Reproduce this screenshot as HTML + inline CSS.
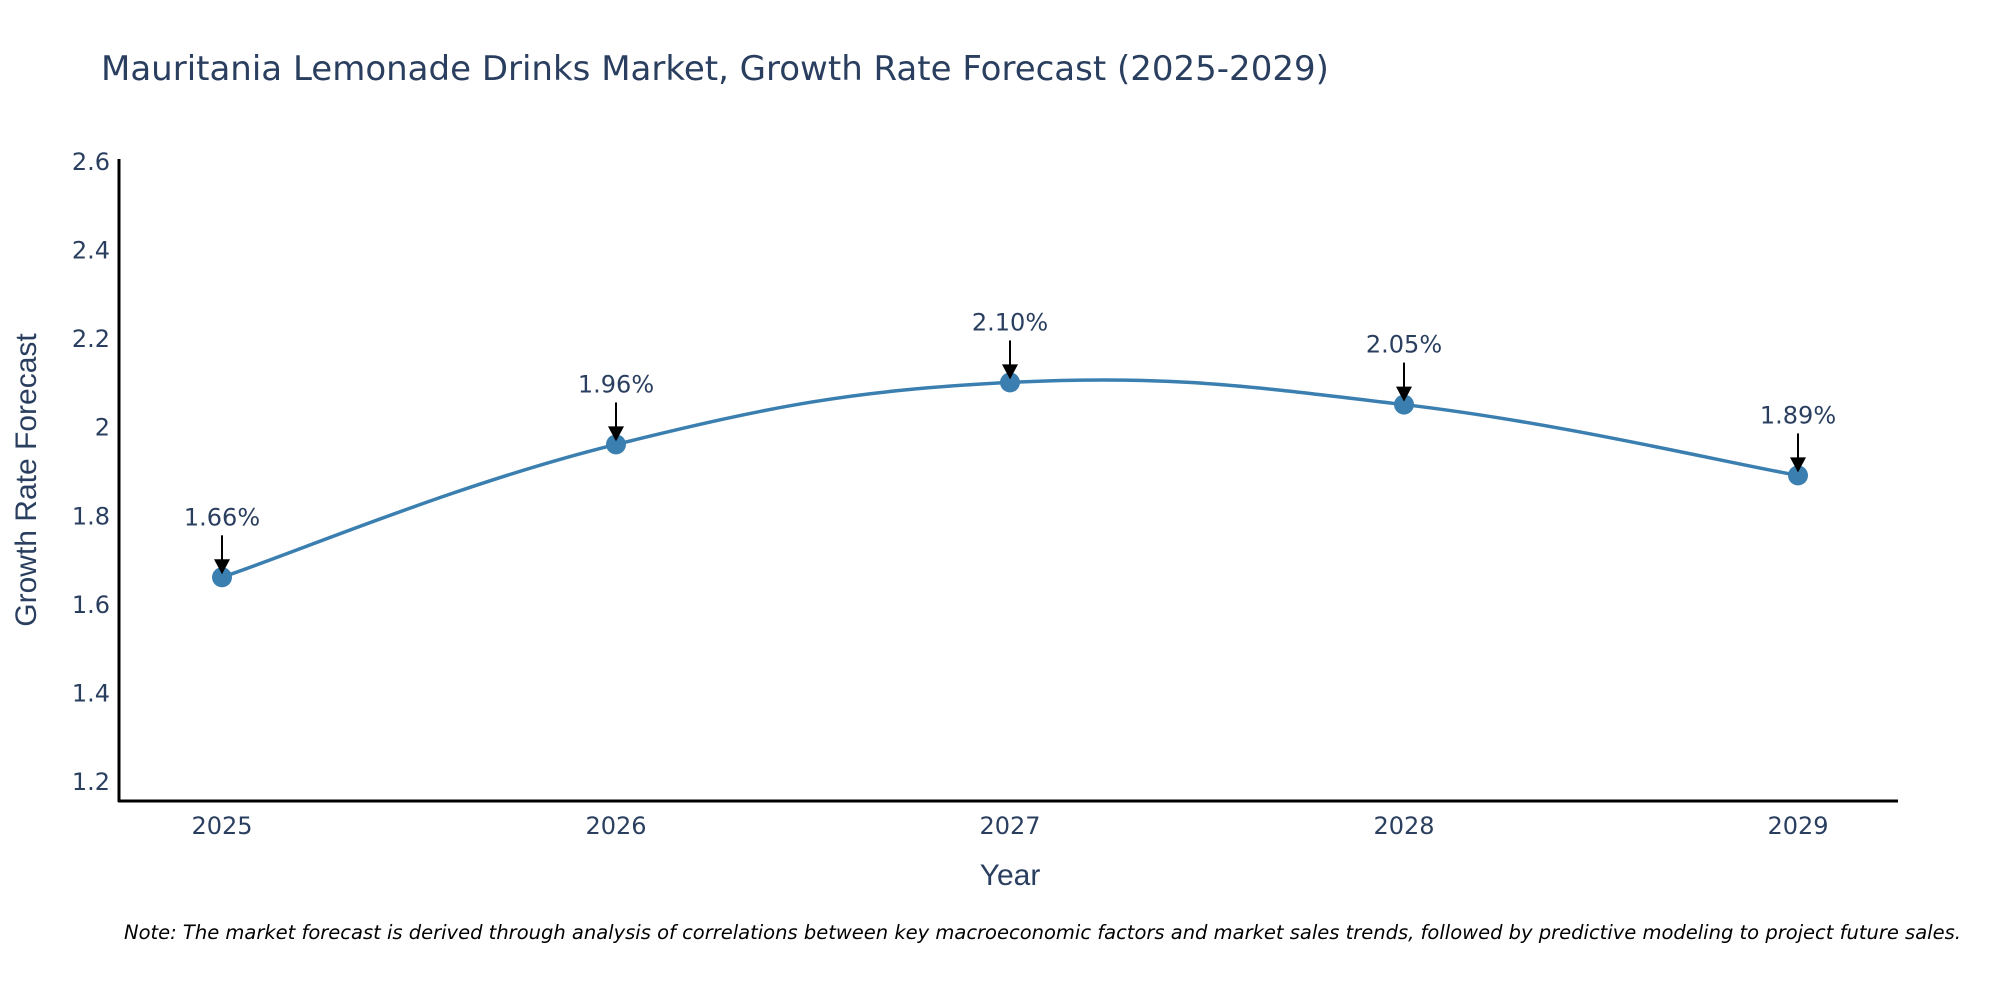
<!DOCTYPE html>
<html><head><meta charset="utf-8"><style>
body{margin:0;background:#fff;}
svg{display:block;font-family:"DejaVu Sans","Liberation Sans",sans-serif;}
</style></head><body>
<svg id="chart" width="2000" height="1000" viewBox="0 0 2000 1000">
<text x="101" y="80" font-size="34" fill="#2a3f5f">Mauritania Lemonade Drinks Market, Growth Rate Forecast (2025-2029)</text>
<line x1="119" y1="159" x2="119" y2="802" stroke="#000" stroke-width="3"/>
<line x1="118" y1="801" x2="1898" y2="801" stroke="#000" stroke-width="3"/>
<text transform="translate(36,480) rotate(-90)" text-anchor="middle" font-size="30" fill="#2a3f5f" font-family="Liberation Sans, sans-serif">Growth Rate Forecast</text>
<text x="1010" y="885" text-anchor="middle" font-size="30" fill="#2a3f5f" font-family="Liberation Sans, sans-serif">Year</text>
<text x="124" y="939" font-size="19.5" font-style="italic" fill="#000">Note: The market forecast is derived through analysis of correlations between key macroeconomic factors and market sales trends, followed by predictive modeling to project future sales.</text>
<g id="ticks"></g>
<g id="series"></g>
</svg>
<script>
const years=["2025","2026","2027","2028","2029"];
const values=[1.66,1.96,2.10,2.05,1.89];
const labels=["1.66%","1.96%","2.10%","2.05%","1.89%"];
const yTicks=[1.2,1.4,1.6,1.8,2,2.2,2.4,2.6];
const yTickLabels=["1.2","1.4","1.6","1.8","2","2.2","2.4","2.6"];
const NS="http://www.w3.org/2000/svg";
function x(i){return 222+i*394;}
function y(v){return 781-(v-1.2)*(620/1.4);}
function mk(tag,attrs,parent){const e=document.createElementNS(NS,tag);for(const k in attrs)e.setAttribute(k,attrs[k]);parent.appendChild(e);return e;}
const ticks=document.getElementById('ticks');
yTicks.forEach((v,i)=>{
 const t=mk('text',{x:110,y:y(v)+9,'text-anchor':'end','font-size':'24',fill:'#2a3f5f'},ticks);
 
 
 t.textContent=yTickLabels[i];
});
years.forEach((yr,i)=>{
 const t=mk('text',{x:x(i),y:834,'text-anchor':'middle','font-size':'24',fill:'#2a3f5f'},ticks);
 
 
 t.textContent=yr;
});
const s=document.getElementById('series');
const pts=values.map((v,i)=>[x(i),y(v)]);
let d='M'+pts[0][0]+','+pts[0][1];
for(let i=0;i<pts.length-1;i++){
 const p0=pts[Math.max(0,i-1)],p1=pts[i],p2=pts[i+1],p3=pts[Math.min(pts.length-1,i+2)];
 const t=0.2;
 const c1=[p1[0]+(p2[0]-p0[0])*t,p1[1]+(p2[1]-p0[1])*t];
 const c2=[p2[0]-(p3[0]-p1[0])*t,p2[1]-(p3[1]-p1[1])*t];
 d+=' C'+c1[0]+','+c1[1]+' '+c2[0]+','+c2[1]+' '+p2[0]+','+p2[1];
}
const line=mk('path',{d:d,fill:'none',stroke:'#3b7fb0','stroke-width':'3.5'},s);


pts.forEach((p,i)=>{
 const c=mk('circle',{cx:p[0],cy:p[1],r:10,fill:'#3b7fb0'},s);
 
 
 const a=mk('line',{x1:p[0],y1:p[1]-42,x2:p[0],y2:p[1]-16,stroke:'#000','stroke-width':'2'},s);
 
 
 const h=mk('polygon',{points:(p[0]-8)+','+(p[1]-18)+' '+(p[0]+8)+','+(p[1]-18)+' '+p[0]+','+(p[1]-3),fill:'#000'},s);
 
 
 const t=mk('text',{x:p[0],y:p[1]-52,'text-anchor':'middle','font-size':'24',fill:'#2a3f5f'},s);
 
 
 t.textContent=labels[i];
});
</script>
</body></html>
